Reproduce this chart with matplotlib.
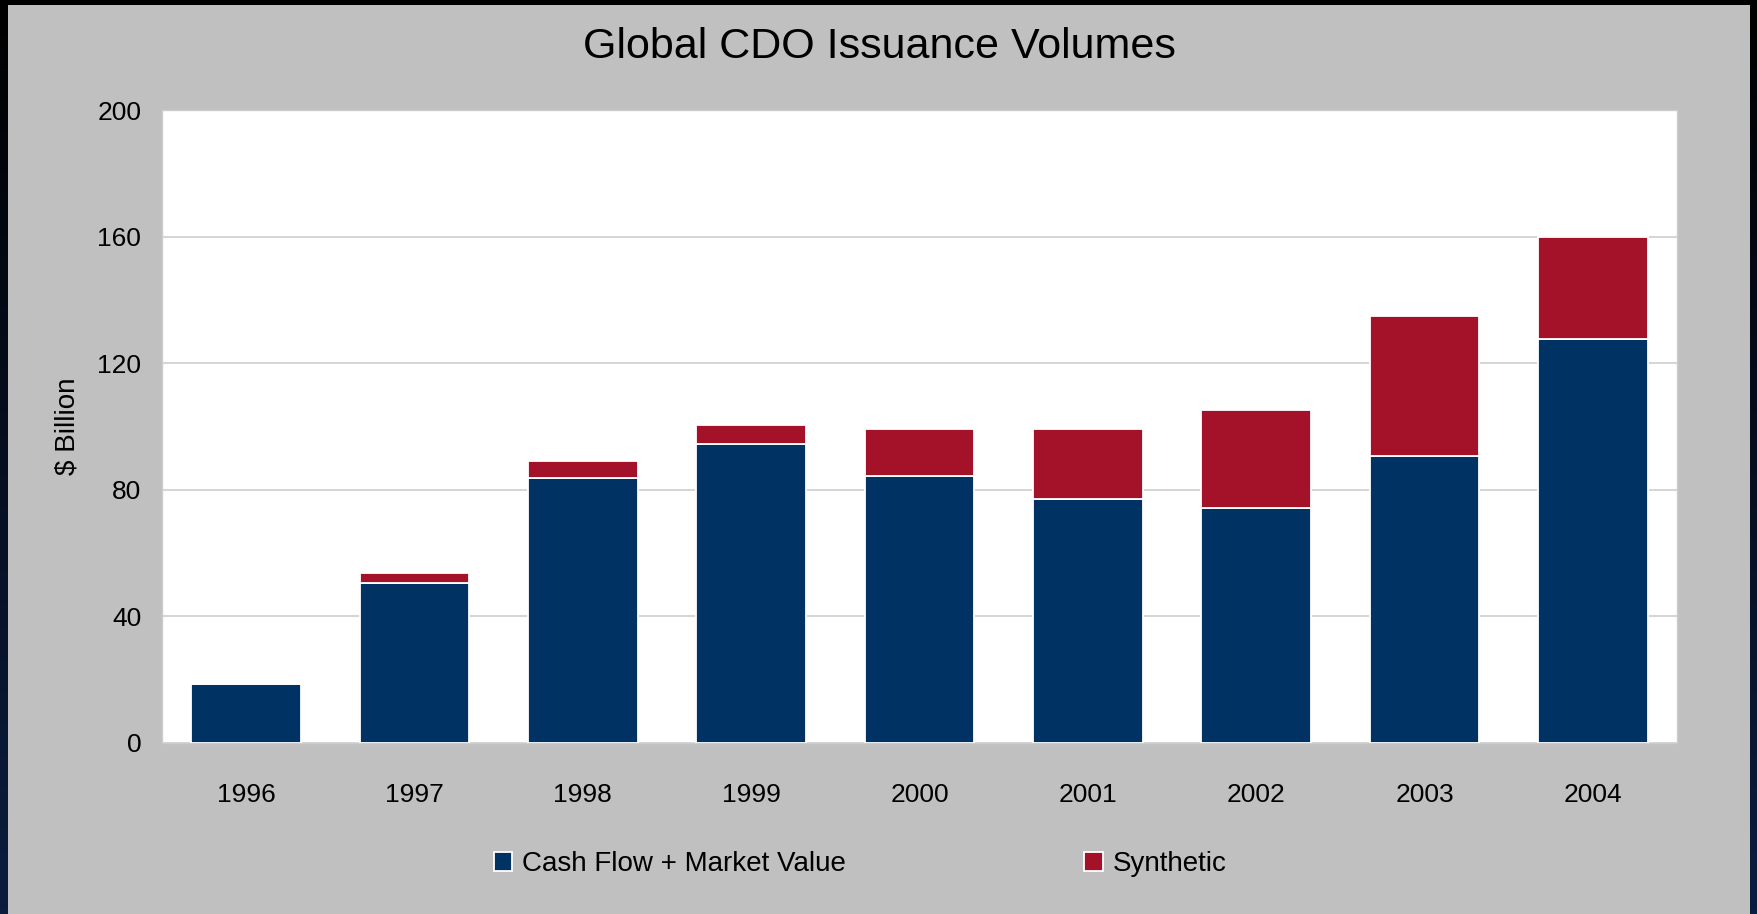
import numpy as np
import matplotlib.pyplot as plt
from matplotlib.patches import Rectangle

# Global CDO issuance, $ billion
years = ["1996", "1997", "1998", "1999", "2000", "2001", "2002", "2003", "2004"]
cash_flow_mv = [18.5, 50.5, 83.8, 94.4, 84.3, 77.2, 74.3, 90.8, 127.7]
synthetic = [0.0, 3.1, 5.3, 6.1, 14.9, 22.0, 30.9, 44.1, 32.1]
y_ticks = [0, 40, 80, 120, 160, 200]

navy = "#003263"
crimson = "#A31228"
panel = "#C0C0C0"

plt.rcParams["font.family"] = ["Liberation Sans", "DejaVu Sans"]

fig = plt.figure(figsize=(17.58, 9.14), dpi=100, facecolor=panel)

# dark slide frame on top, left and right
W, H = 1758, 914
fig.patches.append(Rectangle((0, 1 - 5 / H), 1, 5 / H, transform=fig.transFigure,
                             facecolor="black", edgecolor="none", zorder=0))
grad = np.linspace(0, 1, 256).reshape(-1, 1)
for x0 in (0, 1750 / W):
    w = 8 / W
    sax = fig.add_axes([x0, 0, w, 1 - 5 / H])
    sax.imshow(grad, aspect="auto", cmap=plt.matplotlib.colors.LinearSegmentedColormap.from_list(
        "edge", ["#0b1d3f", "#000000"]), origin="lower")
    sax.axis("off")

ax = fig.add_axes([162 / W, 1 - 743 / H, (1677 - 162) / W, (743 - 110) / H])
ax.set_facecolor("white")

x = np.arange(len(years))
bar_w = 0.65
ax.bar(x, cash_flow_mv, width=bar_w, color=navy, edgecolor="white", linewidth=1.3,
       label="Cash Flow + Market Value", zorder=3)
ax.bar(x, synthetic, width=bar_w, bottom=cash_flow_mv, color=crimson, edgecolor="white",
       linewidth=1.3, label="Synthetic", zorder=3)

ax.set_xlim(-0.5, len(years) - 0.5)
ax.set_ylim(0, 200)
ax.set_yticks(y_ticks)
ax.set_xticks(x)
ax.set_xticklabels(years)
ax.tick_params(axis="y", length=0, pad=15, labelsize=19)
ax.tick_params(axis="x", length=0, pad=29, labelsize=19)
ax.yaxis.grid(True, color="#d2d2d2", linewidth=1.3)
ax.set_axisbelow(True)
for s in ax.spines.values():
    s.set_color("#cccccc")
    s.set_linewidth(1.0)

ax.set_ylabel("$ Billion", fontsize=20)
ax.yaxis.set_label_coords(-0.054, 0.5)

fig.text(0.5, 1 - 47 / H, "Global CDO Issuance Volumes", ha="center", va="center",
         fontsize=31)

leg = fig.legend(loc="center", bbox_to_anchor=(860 / W, 1 - 864 / H), ncol=2,
                 frameon=False, fontsize=20, handlelength=0.65, handleheight=0.7,
                 handletextpad=0.36, columnspacing=8.6)

fig.savefig("out.png", dpi=100, facecolor=fig.get_facecolor())
